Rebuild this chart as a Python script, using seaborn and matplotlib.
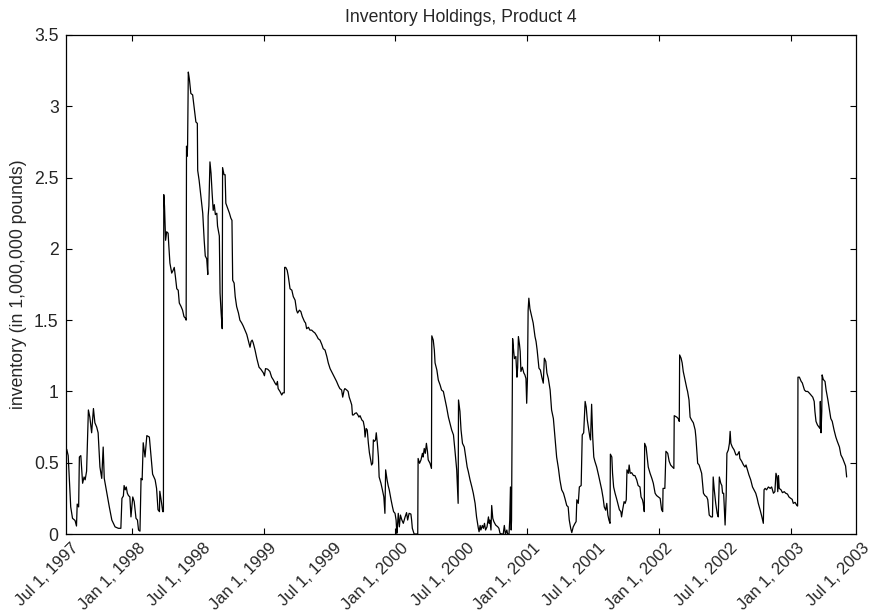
import numpy as np
import pandas as pd
import matplotlib
matplotlib.use("Agg")
import matplotlib.pyplot as plt
import matplotlib.dates as mdates
import matplotlib.transforms as mtransforms
from matplotlib.ticker import FixedLocator, FuncFormatter, MultipleLocator
import seaborn as sns

# ---------------- data ----------------
start_date = "1997-07-01"
# days since start_date
days = [
    3, 7, 14, 19, 26, 30, 32, 36, 38, 42, 44, 47, 51, 54, 58, 63, 67, 72, 77, 81,
    86, 90, 95, 100, 104, 107, 114, 121, 128, 137, 146, 153, 156, 160, 162, 165, 168, 171, 174, 178,
    181, 186, 190, 195, 199, 202, 206, 209, 212, 215, 220, 225, 232, 236, 241, 248, 252, 256, 260, 261,
    266, 269, 271, 272, 274, 277, 280, 284, 286, 289, 294, 298, 301, 304, 308, 312, 315, 320, 324, 328,
    333, 334, 335, 337, 338, 340, 343, 347, 352, 357, 361, 365, 366, 370, 374, 380, 384, 387, 391, 394,
    395, 397, 400, 403, 406, 409, 412, 415, 419, 421, 426, 428, 431, 434, 435, 439, 442, 444, 449, 454,
    458, 461, 463, 467, 470, 474, 479, 483, 488, 492, 497, 502, 506, 511, 514, 517, 520, 525, 530, 536,
    541, 548, 551, 554, 560, 566, 571, 576, 580, 584, 587, 589, 594, 599, 602, 606, 607, 610, 614, 617,
    622, 627, 631, 636, 640, 643, 648, 652, 656, 662, 665, 668, 673, 677, 682, 686, 691, 696, 700, 705,
    710, 714, 719, 724, 728, 733, 737, 742, 747, 751, 756, 760, 765, 768, 772, 774, 779, 783, 786, 790,
    793, 795, 798, 802, 806, 810, 813, 816, 821, 825, 828, 830, 833, 836, 839, 842, 846, 848, 851, 853,
    856, 859, 861, 864, 867, 869, 874, 878, 882, 885, 887, 891, 894, 897, 902, 906, 909, 913, 916, 918,
    919, 922, 925, 928, 932, 936, 941, 945, 948, 952, 957, 959, 961, 966, 976, 977, 981, 985, 989, 991,
    994, 997, 1000, 1003, 1005, 1010, 1014, 1015, 1019, 1022, 1024, 1029, 1033, 1038, 1042, 1047, 1052, 1056, 1061, 1065,
    1070, 1075, 1079, 1084, 1088, 1089, 1093, 1096, 1100, 1105, 1109, 1113, 1116, 1121, 1126, 1130, 1135, 1139, 1144, 1146,
    1149, 1151, 1155, 1158, 1161, 1164, 1168, 1172, 1174, 1176, 1179, 1181, 1184, 1187, 1192, 1198, 1201, 1204, 1209, 1213,
    1216, 1219, 1223, 1225, 1229, 1231, 1233, 1235, 1236, 1239, 1242, 1244, 1248, 1251, 1253, 1255, 1258, 1260, 1262, 1266,
    1270, 1273, 1276, 1278, 1280, 1282, 1284, 1287, 1292, 1296, 1301, 1304, 1307, 1312, 1316, 1320, 1324, 1327, 1331, 1334,
    1338, 1343, 1347, 1352, 1357, 1361, 1366, 1370, 1375, 1380, 1384, 1389, 1393, 1396, 1400, 1403, 1407, 1412, 1415, 1417,
    1421, 1424, 1429, 1432, 1436, 1440, 1443, 1446, 1449, 1453, 1455, 1458, 1461, 1464, 1467, 1472, 1477, 1481, 1486, 1490,
    1493, 1497, 1500, 1503, 1506, 1509, 1510, 1514, 1516, 1519, 1523, 1528, 1532, 1535, 1539, 1541, 1544, 1548, 1551, 1554,
    1556, 1560, 1562, 1565, 1569, 1574, 1578, 1583, 1587, 1592, 1595, 1599, 1601, 1604, 1605, 1609, 1612, 1615, 1620, 1625,
    1629, 1634, 1638, 1643, 1648, 1652, 1655, 1656, 1661, 1664, 1669, 1673, 1677, 1682, 1686, 1687, 1694, 1698, 1701, 1702,
    1706, 1709, 1712, 1717, 1722, 1724, 1728, 1731, 1735, 1740, 1745, 1747, 1749, 1752, 1756, 1759, 1763, 1768, 1772, 1777,
    1780, 1784, 1789, 1793, 1795, 1798, 1802, 1806, 1809, 1812, 1816, 1819, 1821, 1824, 1828, 1831, 1833, 1837, 1840, 1842,
    1844, 1848, 1853, 1858, 1862, 1867, 1869, 1874, 1879, 1883, 1886, 1890, 1894, 1899, 1904, 1908, 1913, 1917, 1920, 1925,
    1930, 1934, 1936, 1939, 1943, 1948, 1953, 1957, 1962, 1966, 1969, 1972, 1974, 1976, 1978, 1983, 1987, 1992, 1996, 2001,
    2005, 2010, 2014, 2017, 2022, 2027, 2029, 2030, 2034, 2039, 2042, 2048, 2052, 2057, 2062, 2066, 2071, 2075, 2077, 2080,
    2084, 2088, 2091, 2092, 2094, 2096, 2097, 2100, 2105, 2108, 2113, 2116, 2121, 2125, 2130, 2135, 2139, 2145, 2149, 2154,
    2159, 2162, 2165,
]
# inventory, millions of pounds
inventory = [
    0.594, 0.55, 0.19, 0.11, 0.095, 0.056, 0.21, 0.19, 0.54, 0.55, 0.47, 0.356, 0.40, 0.38, 0.44, 0.87, 0.82, 0.71, 0.88, 0.78,
    0.75, 0.71, 0.47, 0.39, 0.61, 0.39, 0.29, 0.19, 0.098, 0.05, 0.04, 0.04, 0.25, 0.267, 0.34, 0.31, 0.33, 0.286, 0.27, 0.26,
    0.12, 0.26, 0.227, 0.11, 0.098, 0.028, 0.02, 0.39, 0.38, 0.64, 0.54, 0.69, 0.68, 0.566, 0.42, 0.38, 0.32, 0.17, 0.157, 0.30,
    0.215, 0.157, 0.157, 2.38, 2.30, 2.06, 2.12, 2.11, 2.02, 1.90, 1.83, 1.85, 1.87, 1.81, 1.72, 1.71, 1.62, 1.595, 1.57, 1.525,
    1.51, 1.50, 2.72, 2.65, 2.73, 3.24, 3.19, 3.09, 3.08, 2.975, 2.89, 2.88, 2.55, 2.48, 2.39, 2.25, 2.06, 1.95, 1.93, 1.82,
    2.23, 2.30, 2.61, 2.53, 2.39, 2.27, 2.31, 2.24, 2.25, 2.16, 2.09, 1.69, 1.55, 1.44, 2.57, 2.52, 2.52, 2.32, 2.285, 2.25,
    2.215, 2.20, 1.78, 1.76, 1.665, 1.595, 1.55, 1.50, 1.48, 1.46, 1.43, 1.40, 1.36, 1.31, 1.35, 1.36, 1.34, 1.29, 1.23, 1.17,
    1.156, 1.13, 1.11, 1.16, 1.156, 1.14, 1.10, 1.08, 1.06, 1.045, 1.07, 1.02, 1.00, 0.975, 0.99, 0.99, 1.87, 1.87, 1.85, 1.81,
    1.72, 1.71, 1.665, 1.64, 1.57, 1.55, 1.57, 1.56, 1.525, 1.49, 1.48, 1.44, 1.45, 1.43, 1.43, 1.42, 1.41, 1.39, 1.37, 1.36,
    1.33, 1.30, 1.29, 1.245, 1.20, 1.16, 1.14, 1.116, 1.09, 1.07, 1.04, 1.02, 1.01, 0.96, 1.01, 1.02, 1.01, 1.00, 0.96, 0.93,
    0.905, 0.835, 0.835, 0.846, 0.85, 0.835, 0.82, 0.83, 0.80, 0.79, 0.75, 0.68, 0.74, 0.73, 0.64, 0.57, 0.51, 0.484, 0.496, 0.66,
    0.65, 0.66, 0.71, 0.636, 0.54, 0.40, 0.356, 0.31, 0.26, 0.145, 0.45, 0.38, 0.34, 0.31, 0.24, 0.19, 0.157, 0.145, 0.098, 0.005,
    0.028, 0.145, 0.05, 0.133, 0.098, 0.075, 0.12, 0.15, 0.098, 0.145, 0.14, 0.098, 0.04, 0.0, 0.0, 0.53, 0.496, 0.52, 0.566, 0.54,
    0.60, 0.566, 0.636, 0.578, 0.52, 0.496, 0.46, 1.39, 1.36, 1.29, 1.20, 1.15, 1.08, 1.045, 1.01, 1.00, 0.94, 0.89, 0.82, 0.78,
    0.73, 0.695, 0.59, 0.45, 0.215, 0.94, 0.86, 0.73, 0.636, 0.61, 0.54, 0.47, 0.44, 0.38, 0.33, 0.286, 0.215, 0.12, 0.04, 0.016,
    0.06, 0.028, 0.06, 0.04, 0.075, 0.028, 0.05, 0.12, 0.075, 0.098, 0.028, 0.20, 0.11, 0.087, 0.063, 0.05, 0.04, 0.005, 0.0, 0.0,
    0.06, 0.0, 0.028, 0.0, 0.0, 0.098, 0.33, 0.028, 0.098, 1.37, 1.28, 1.23, 1.245, 1.10, 1.17, 1.385, 1.33, 1.28, 1.14, 1.17,
    1.13, 1.116, 1.09, 0.917, 1.08, 1.57, 1.654, 1.58, 1.525, 1.48, 1.385, 1.35, 1.29, 1.163, 1.15, 1.10, 1.058, 1.233, 1.21, 1.13,
    1.09, 1.01, 0.87, 0.81, 0.66, 0.54, 0.46, 0.38, 0.31, 0.286, 0.25, 0.20, 0.19, 0.098, 0.04, 0.01, 0.05, 0.075, 0.087, 0.24,
    0.215, 0.33, 0.34, 0.695, 0.71, 0.93, 0.89, 0.80, 0.75, 0.68, 0.66, 0.91, 0.68, 0.54, 0.51, 0.47, 0.415, 0.367, 0.31, 0.25,
    0.19, 0.167, 0.215, 0.133, 0.098, 0.075, 0.56, 0.54, 0.426, 0.33, 0.286, 0.24, 0.20, 0.17, 0.157, 0.12, 0.17, 0.227, 0.215, 0.24,
    0.45, 0.426, 0.484, 0.426, 0.43, 0.41, 0.41, 0.38, 0.34, 0.33, 0.26, 0.24, 0.215, 0.157, 0.636, 0.61, 0.54, 0.47, 0.426, 0.39,
    0.356, 0.286, 0.27, 0.26, 0.25, 0.17, 0.157, 0.32, 0.32, 0.58, 0.566, 0.51, 0.484, 0.47, 0.46, 0.83, 0.82, 0.81, 0.79, 1.256,
    1.233, 1.20, 1.14, 1.08, 1.02, 1.00, 0.94, 0.82, 0.80, 0.78, 0.73, 0.68, 0.61, 0.496, 0.484, 0.46, 0.426, 0.286, 0.27, 0.26,
    0.24, 0.133, 0.12, 0.12, 0.40, 0.31, 0.215, 0.145, 0.12, 0.40, 0.356, 0.34, 0.286, 0.286, 0.063, 0.27, 0.566, 0.59, 0.636, 0.72,
    0.636, 0.61, 0.59, 0.555, 0.555, 0.578, 0.53, 0.51, 0.484, 0.47, 0.484, 0.45, 0.415, 0.38, 0.33, 0.31, 0.286, 0.25, 0.215, 0.17,
    0.12, 0.075, 0.31, 0.32, 0.31, 0.33, 0.32, 0.33, 0.286, 0.297, 0.426, 0.40, 0.297, 0.41, 0.32, 0.31, 0.29, 0.297, 0.286, 0.28,
    0.26, 0.25, 0.243, 0.215, 0.222, 0.20, 0.196, 1.10, 1.10, 1.07, 1.06, 1.01, 1.00, 1.00, 0.987, 0.975, 0.96, 0.93, 0.86, 0.79,
    0.765, 0.75, 0.74, 0.93, 0.71, 0.86, 1.116, 1.085, 1.07, 1.01, 0.94, 0.89, 0.81, 0.79, 0.73, 0.68, 0.65, 0.61, 0.555, 0.53,
    0.496, 0.477, 0.40,
]

label_dates = ["1997-07-01", "1998-01-01", "1998-07-01", "1999-01-01", "1999-07-01",
               "2000-01-01", "2000-07-01", "2001-01-01", "2001-07-01", "2002-01-01",
               "2002-07-01", "2003-01-01", "2003-07-01"]
label_texts = ["Jul 1, 1997", "Jan 1, 1998", "Jul 1, 1998", "Jan 1, 1999", "Jul 1, 1999",
               "Jan 1, 2000", "Jul 1, 2000", "Jan 1, 2001", "Jul 1, 2001", "Jan 1, 2002",
               "Jul 1, 2002", "Jan 1, 2003", "Jul 1, 2003"]
year_tick_dates = ["1998-01-01", "1999-01-01", "2000-01-01", "2001-01-01", "2002-01-01", "2003-01-01"]

title_text = "Inventory Holdings, Product 4"
ylabel_text = "inventory (in 1,000,000 pounds)"

# ---------------- plot ----------------
sns.set_style("white")
plt.rcParams["font.family"] = ["Liberation Sans", "DejaVu Sans"]
FS = 12.7
plt.rcParams["font.size"] = FS

df = pd.DataFrame({
    "date": pd.Timestamp(start_date) + pd.to_timedelta(days, unit="D"),
    "inventory": inventory,
})

fig = plt.figure(figsize=(8.72, 6.16), dpi=100)
ax = fig.add_axes([0.0753, 0.1331, 0.9064, 0.8101])

sns.lineplot(data=df, x="date", y="inventory", ax=ax, color="black",
             linewidth=0.9, estimator=None, sort=False)

ax.set_xlim(pd.Timestamp(label_dates[0]), pd.Timestamp(label_dates[-1]))
ax.set_ylim(0, 3.5)

# x axis: labels every half year (no marks), marks at each Jan 1
ax.xaxis.remove_overlapping_locs = False
label_pos = mdates.date2num(pd.to_datetime(label_dates))
ax.xaxis.set_major_locator(FixedLocator(label_pos))
ax.set_xticklabels(label_texts, rotation=45, ha="right", va="top", fontsize=12)
ax.xaxis.set_minor_locator(FixedLocator(mdates.date2num(pd.to_datetime(year_tick_dates))))
ax.tick_params(axis="x", which="major", length=0, pad=4)
ax.tick_params(axis="x", which="minor", direction="in", length=4.5, width=0.8,
               top=True, bottom=True, color="black")
offset = mtransforms.ScaledTranslation(0.16, -0.01, fig.dpi_scale_trans)
for lbl in ax.get_xticklabels():
    lbl.set_transform(lbl.get_transform() + offset)

# y axis
ax.yaxis.set_major_locator(MultipleLocator(0.5))
ax.yaxis.set_major_formatter(FuncFormatter(lambda v, p: f"{v:g}"))
ax.tick_params(axis="y", which="major", direction="in", length=4.5, width=0.8,
               left=True, right=True, labelsize=FS, pad=5, color="black")

for s in ax.spines.values():
    s.set_visible(True)
    s.set_color("black")
    s.set_linewidth(0.9)

ax.set_xlabel("")
ax.set_ylabel(ylabel_text, fontsize=FS, labelpad=5)
ax.set_title(title_text, fontsize=FS, pad=9)

fig.savefig("out.png", dpi=100)
